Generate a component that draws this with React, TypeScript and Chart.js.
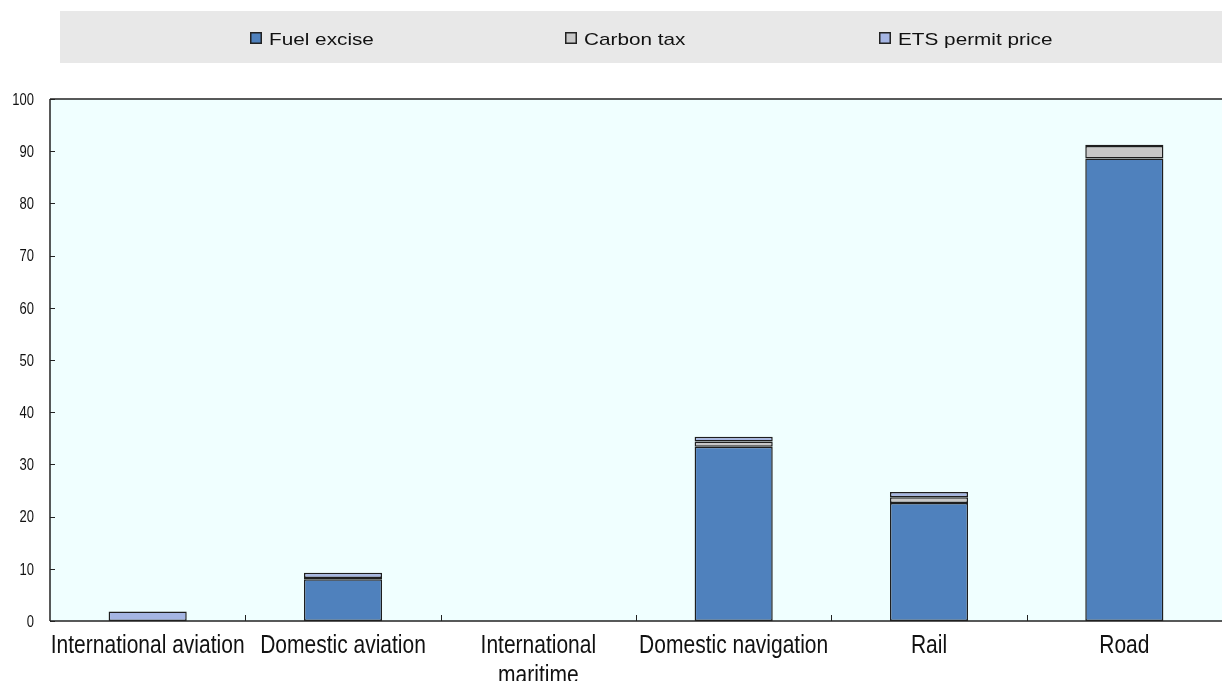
import React, { useEffect, useRef } from "react";
import { Chart, registerables } from "chart.js";

Chart.register(...registerables);

const categories: (string | string[])[] = [
  "International aviation",
  "Domestic aviation",
  ["International", "maritime"],
  "Domestic navigation",
  "Rail",
  "Road",
];
const fuelExcise: (number | null)[] = [null, 8.0, null, 33.4, 22.6, 88.6];
const carbonTax: (number | null)[] = [null, 0.25, null, 1.0, 1.1, 2.4];
const etsPermit: (number | null)[] = [1.8, 1.0, null, 0.9, 1.0, 0.25];
const seriesNames = ["Fuel excise", "Carbon tax", "ETS permit price"];
const seriesColors = ["#4F81BD", "#C8C8C8", "#A5B5E3"];
const yTicks = [0, 10, 20, 30, 40, 50, 60, 70, 80, 90, 100];

const FONT = "'Liberation Sans', Arial, sans-serif";

function scaledText(
  ctx: CanvasRenderingContext2D,
  text: string,
  x: number,
  baseline: number,
  align: CanvasTextAlign,
  sx: number,
  sy: number
) {
  ctx.save();
  ctx.translate(x, baseline);
  ctx.scale(sx, sy);
  ctx.textAlign = align;
  ctx.textBaseline = "alphabetic";
  ctx.fillText(text, 0, 0);
  ctx.restore();
}

const decorPlugin = {
  id: "decor",
  beforeDraw(chart: any) {
    const { ctx, chartArea } = chart;
    ctx.save();
    ctx.fillStyle = "#F0FFFF";
    ctx.fillRect(chartArea.left, chartArea.top, chartArea.right - chartArea.left, chartArea.bottom - chartArea.top);
    ctx.fillStyle = "#E8E8E8";
    ctx.fillRect(60, 11, chart.width - 60, 52);
    const xs = [250, 565, 879];
    ctx.font = `17px ${FONT}`;
    seriesNames.forEach((name, i) => {
      const x = xs[i];
      ctx.fillStyle = seriesColors[i];
      ctx.fillRect(x, 32, 12, 12);
      ctx.strokeStyle = "#222";
      ctx.lineWidth = 1.5;
      ctx.strokeRect(x + 0.75, 32.75, 10.5, 10.5);
      ctx.fillStyle = "#111";
      scaledText(ctx, name, x + 19, 45, "left", 1.22, 1.0);
    });
    ctx.restore();
  },
  afterDatasetsDraw(chart: any) {
    const { ctx, chartArea, scales } = chart;
    ctx.save();
    ctx.strokeStyle = "#222";
    ctx.lineWidth = 1.5;
    ctx.beginPath();
    ctx.moveTo(chartArea.left, chartArea.top);
    ctx.lineTo(chartArea.right, chartArea.top);
    ctx.stroke();
    ctx.beginPath();
    ctx.moveTo(chartArea.left, chartArea.top);
    ctx.lineTo(chartArea.left, chartArea.bottom);
    ctx.stroke();
    ctx.beginPath();
    ctx.moveTo(chartArea.left, chartArea.bottom);
    ctx.lineTo(chartArea.right, chartArea.bottom);
    ctx.stroke();
    ctx.lineWidth = 1;
    yTicks.forEach((v) => {
      const y = Math.round(scales.y.getPixelForValue(v)) + 0.5;
      ctx.beginPath();
      ctx.moveTo(chartArea.left, y);
      ctx.lineTo(chartArea.left + 5, y);
      ctx.stroke();
    });
    const n = categories.length;
    const w = (chartArea.right - chartArea.left) / n;
    for (let i = 1; i < n; i++) {
      const x = Math.round(chartArea.left + i * w) + 0.5;
      ctx.beginPath();
      ctx.moveTo(x, chartArea.bottom);
      ctx.lineTo(x, chartArea.bottom - 6);
      ctx.stroke();
    }
    ctx.fillStyle = "#111";
    ctx.font = `13px ${FONT}`;
    yTicks.forEach((v) => {
      const y = scales.y.getPixelForValue(v);
      scaledText(ctx, String(v), 34, y + 5.8, "right", 1.0, 1.25);
    });
    ctx.font = `21px ${FONT}`;
    categories.forEach((lab, i) => {
      const x = scales.x.getPixelForTick(i);
      const lines = Array.isArray(lab) ? lab : [lab];
      lines.forEach((ln, j) => {
        scaledText(ctx, ln, x, 653 + j * 30, "center", 1.0, 1.2);
      });
    });
    ctx.restore();
  },
};

export default function App() {
  const canvasRef = useRef<HTMLCanvasElement | null>(null);

  useEffect(() => {
    if (!canvasRef.current) return;
    const mk = (i: number, data: (number | null)[]) => ({
      label: seriesNames[i],
      data,
      backgroundColor: seriesColors[i],
      borderColor: "#1E1E1E",
      borderWidth: 1.5,
      borderSkipped: false,
      categoryPercentage: 1,
      barPercentage: 0.4,
    });
    const chart = new Chart(canvasRef.current, {
      type: "bar",
      data: {
        labels: categories,
        datasets: [mk(0, fuelExcise), mk(1, carbonTax), mk(2, etsPermit)],
      },
      plugins: [decorPlugin],
      options: {
        animation: false,
        responsive: false,
        maintainAspectRatio: false,
        layout: { padding: { top: 99, right: 0, left: 0, bottom: 0 } },
        plugins: {
          legend: { display: false },
          tooltip: { enabled: false },
        },
        scales: {
          x: {
            stacked: true,
            grid: { display: false, drawTicks: false },
            border: { display: false },
            ticks: { display: false, autoSkip: false },
            afterFit: (s: any) => {
              s.height = 60;
            },
          },
          y: {
            stacked: true,
            min: 0,
            max: 100,
            afterBuildTicks: (s: any) => {
              s.ticks = yTicks.map((v) => ({ value: v }));
            },
            grid: { display: false, drawTicks: false },
            border: { display: false },
            ticks: { display: false },
            afterFit: (s: any) => {
              s.width = 50;
            },
          },
        },
      } as any,
    });
    return () => chart.destroy();
  }, []);

  return (
    <div style={{ position: "fixed", left: 0, top: 0, width: 1222, height: 681, background: "#fff" }}>
      <canvas ref={canvasRef} width={1222} height={681} style={{ width: 1222, height: 681, display: "block" }} />
    </div>
  );
}
